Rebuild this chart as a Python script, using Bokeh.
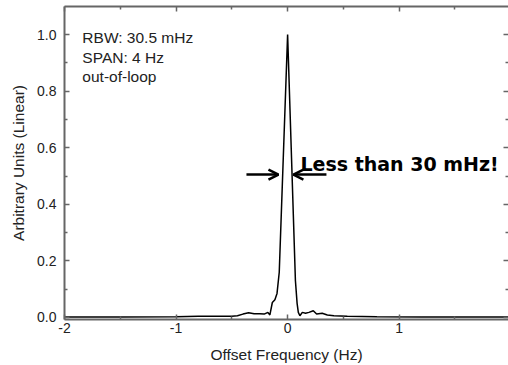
from bokeh.plotting import figure
from bokeh.models import LinearAxis, Range1d, Label, Arrow, OpenHead, FixedTicker, ColumnDataSource
from bokeh.embed import file_html
from bokeh.resources import INLINE

# Spectrum data (offset frequency in Hz, normalized amplitude)
freq = [-2.0, -1.5, -1.0, -0.8, -0.6, -0.5, -0.45, -0.40, -0.35, -0.30, -0.25, -0.21,
        -0.177, -0.159, -0.137, -0.114, -0.095, -0.075, 0.0, 0.07, 0.085, 0.096, 0.11,
        0.132, 0.161, 0.191, 0.23, 0.26, 0.31, 0.356, 0.415, 0.535, 0.8, 1.2, 2.0]
amp = [0.002, 0.002, 0.003, 0.004, 0.004, 0.004, 0.006, 0.012, 0.017, 0.013, 0.013, 0.012,
       0.018, 0.009, 0.053, 0.063, 0.085, 0.16, 1.0, 0.13, 0.05, 0.018, 0.006,
       0.018, 0.015, 0.018, 0.024, 0.012, 0.015, 0.009, 0.006, 0.004, 0.003, 0.002, 0.002]

x_major = [-2, -1, 0, 1, 2]
x_minor = [-1.5, -0.5, 0.5, 1.5]
y_major = [0.0, 0.2, 0.4, 0.6, 0.8, 1.0]
y_minor = [0.1, 0.3, 0.5, 0.7, 0.9]

info_lines = ["RBW: 30.5 mHz", "SPAN: 4 Hz", "out-of-loop"]
info_x = -1.84
info_y = [1.018, 0.950, 0.882]
callout = "Less than 30 mHz!"
callout_x, callout_y = 0.115, 0.541
arrow_level = 0.505
left_arrow = (-0.369, -0.082)
right_arrow = (0.348, 0.052)

AX = "#666666"
TXT = "#222222"
FONT = "Liberation Sans"

p = figure(width=508, height=365, output_backend="svg", toolbar_location=None,
           x_range=Range1d(-2, 1.98), y_range=Range1d(-0.0071, 1.099),
           x_axis_location=None, y_axis_location=None,
           min_border_left=64, min_border_right=0, min_border_top=6, min_border_bottom=0)
p.outline_line_color = None
p.xgrid.visible = False
p.ygrid.visible = False
p.background_fill_color = "white"
p.border_fill_color = "white"

xt = FixedTicker(ticks=x_major, minor_ticks=x_minor)
yt = FixedTicker(ticks=y_major, minor_ticks=y_minor)

def style(ax, show_labels):
    ax.axis_line_color = AX
    ax.axis_line_width = 2
    ax.major_tick_line_color = AX
    ax.minor_tick_line_color = AX
    ax.major_tick_line_width = 1.5
    ax.minor_tick_line_width = 1.5
    ax.major_tick_in = 5
    ax.major_tick_out = 0
    ax.minor_tick_in = 3
    ax.minor_tick_out = 0
    if not show_labels:
        ax.major_label_text_font_size = "0px"
        ax.major_label_standoff = 0
        ax.major_label_text_alpha = 0
    else:
        ax.major_label_text_font = FONT
        ax.major_label_text_font_size = "14px"
        ax.major_label_text_color = TXT
        ax.major_label_text_line_height = 1.0
        ax.axis_label_text_font = FONT
        ax.axis_label_text_font_size = "15.5px"
        ax.axis_label_text_font_style = "normal"
        ax.axis_label_text_color = TXT
        ax.axis_label_text_line_height = 1.0

bottom = LinearAxis(ticker=xt, axis_label="Offset Frequency (Hz)")
style(bottom, True)
bottom.major_label_standoff = 3
bottom.axis_label_standoff = 10
bottom.major_label_overrides = {-2: "-2", -1: "-1", 0: "0", 1: "1", 2: "2"}
p.add_layout(bottom, "below")

left = LinearAxis(ticker=yt, axis_label="Arbitrary Units (Linear)")
style(left, True)
left.major_label_standoff = 8
left.axis_label_standoff = 7
left.major_label_overrides = {v: f"{v:.1f}" for v in y_major}
p.add_layout(left, "left")

top = LinearAxis(ticker=xt)
style(top, False)
p.add_layout(top, "above")

right = LinearAxis(ticker=yt)
style(right, False)
right.axis_line_color = None
p.add_layout(right, "right")

src = ColumnDataSource(dict(x=freq, y=amp))
p.line("x", "y", source=src, line_color="black", line_width=1.5)

for t, yy in zip(info_lines, info_y):
    p.add_layout(Label(x=info_x, y=yy, text=t, text_font=FONT, text_font_size="15.5px",
                       text_color=TXT, text_baseline="top"))

p.add_layout(Label(x=callout_x, y=callout_y, text=callout, text_font="DejaVu Sans",
                   text_font_style="bold", text_font_size="19px", text_color="black",
                   text_baseline="alphabetic"))

for (xs, xe) in (left_arrow, right_arrow):
    p.add_layout(Arrow(end=OpenHead(size=10, line_width=2.5, line_color="black"),
                       x_start=xs, y_start=arrow_level, x_end=xe, y_end=arrow_level,
                       line_width=2.5, line_color="black"))

open("out.html", "w").write(file_html(p, INLINE))
